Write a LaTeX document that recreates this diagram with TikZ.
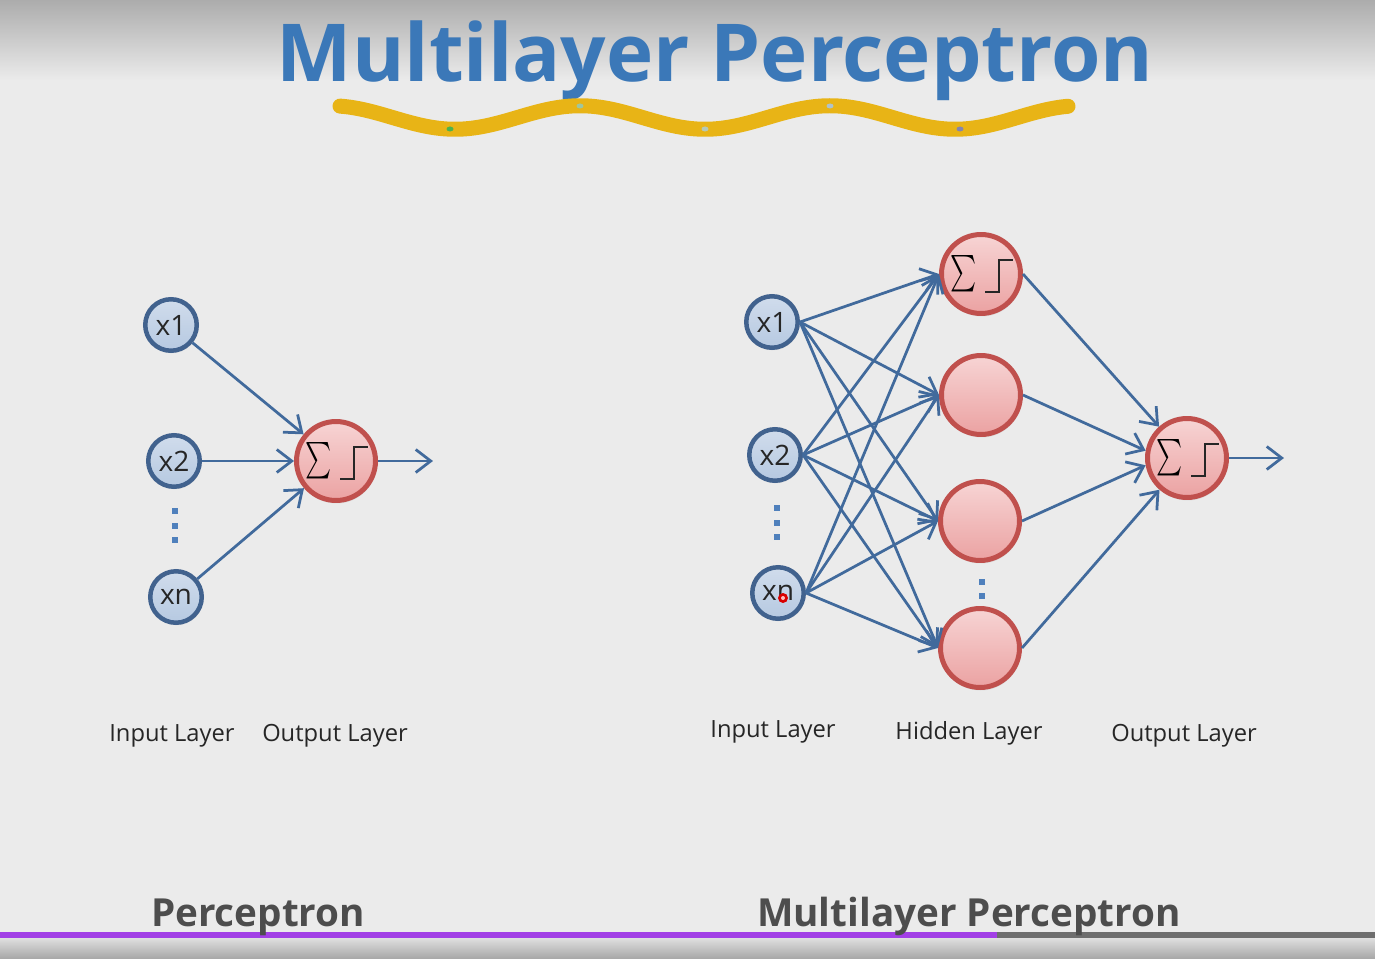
\documentclass[tikz,border=0pt]{standalone}
\usepackage{fontspec}
\setmainfont{Open Sans}
\usepackage{exscale}
\usepackage{graphicx}
\usepackage{xcolor}
\definecolor{slide}{HTML}{EBEBEB}
\definecolor{titleblue}{HTML}{3B78B8}
\definecolor{inring}{HTML}{41628E}
\definecolor{intop}{HTML}{D0DCEC}
\definecolor{inbot}{HTML}{B6C9E1}
\definecolor{nring}{HTML}{C0504D}
\definecolor{ntop}{HTML}{F7D4D4}
\definecolor{nbot}{HTML}{EBA2A2}
\definecolor{edgeblue}{HTML}{416A9C}
\definecolor{dotblue}{HTML}{4F80BC}
\definecolor{wavegold}{HTML}{E8B416}
\definecolor{barpurple}{HTML}{A23FE6}
\definecolor{bargray}{HTML}{6E6E6E}
\definecolor{capgray}{HTML}{4D4D4D}
\usetikzlibrary{arrows.meta,positioning,shadows}
\tikzset{
    inp/.style={
    circle,draw=inring,line width=0.09cm,top color=intop,bottom color=inbot,minimum size=1.03cm,inner sep=0pt,
    font=\fontsize{16}{18}\selectfont,text=black!85,drop shadow={opacity=0.12,shadow xshift=0.02cm,shadow yshift=-0.05cm}
    },
    neur/.style={
    circle,draw=nring,line width=0.1cm,top color=ntop,bottom color=nbot,minimum size=1.58cm,inner sep=0pt,
    drop shadow={opacity=0.12,shadow xshift=0.02cm,shadow yshift=-0.06cm}
    },
    sq/.style={rectangle,fill=dotblue,minimum size=0.13cm,inner sep=0pt},
  line/.style={draw=edgeblue, line width=0.055cm, -{Straight Barb[length=0.3cm,width=0.46cm]}},
  stepfn/.style={line width=0.05cm, black!85},
  lbl/.style={anchor=base, font=\fontsize{13.5}{16}\selectfont, text=black!85},
  caption/.style={anchor=base, font=\bfseries\fontsize{22}{24}\selectfont, text=capgray},
}
\newcommand{\sumtxt}{\scalebox{0.68}[1]{\fontsize{20}{20}\selectfont$\sum$}\rule{0.68cm}{0pt}}
\newcommand{\actstep}[1]{\draw[stepfn] ([shift={(4,18)}]#1.center) -- ++(14,0) -- ++(0,-32) -- ++(14,0);}

\begin{document}
\begin{tikzpicture}[x=0.02cm,y=-0.02cm]
\useasboundingbox (0,0) rectangle (1375,959);
% slide background
\fill[slide] (0,0) rectangle (1375,959);
\shade[top color=gray!65, bottom color=slide] (0,0) rectangle (1375,80);
\shade[top color=gray!25, bottom color=gray!70] (0,938) rectangle (1375,959);
\fill[barpurple] (0,932) rectangle (997,938);
\fill[bargray] (997,932) rectangle (1375,938);

  \node[anchor=base,font=\bfseries\fontsize{45.5}{50}\selectfont,text=titleblue] (title) at (715,82) {Multilayer Perceptron};
  \draw[wavegold,line width=0.3cm,line cap=round] plot[domain=340:1068,samples=120,smooth] (\x,{117.5-11.75*cos((\x-330)*1.44)});
  \fill[green!40!gray] (450,129) ellipse (0.07cm and 0.05cm);
  \fill[green!25!gray!60] (580,106) ellipse (0.07cm and 0.05cm);
  \fill[green!15!gray!50] (705,129) ellipse (0.07cm and 0.05cm);
  \fill[cyan!25!gray!60] (830,106) ellipse (0.07cm and 0.05cm);
  \fill[blue!20!gray!80] (960,129) ellipse (0.07cm and 0.05cm);

% perceptron
  \node[inp] (px1) at (171,325) {x1};
  \node[inp] (px2) at (174,461) {x2};
  \node[inp] (pxn) at (176,597) {xn};
  \node[sq] (pd1) at (175,511) {};
  \node[sq] (pd2) at (175,526) {};
  \node[sq] (pd3) at (175,540) {};
  \node[neur] (pout) at (336,461) {\sumtxt};
  \actstep{pout}
  \coordinate[right=1.1cm of pout] (py);
  \path[line] (px1) -- (pout);
  \path[line] (px2) -- (pout);
  \path[line] (pxn) -- (pout);
  \path[line] (pout) -- (py);
  \node[lbl] (pin) at (172,741) {Input Layer};
  \node[lbl] (pol) at (335,741) {Output Layer};

% multilayer perceptron
  \node[inp] (m1) at (772,322) {x1};
  \node[inp] (m2) at (775,455) {x2};
  \node[inp] (mn) at (778,593) {xn};
  \node[sq] (md1) at (777,508) {};
  \node[sq] (md2) at (777,523) {};
  \node[sq] (md3) at (777,537) {};
  \node[neur] (h1) at (981,274) {\sumtxt};
  \actstep{h1}
  \node[neur] (h2) at (981,395) {};
  \node[neur] (h3) at (980,521) {};
  \node[neur] (h4) at (980,648) {};
  \node[sq] (hd1) at (982,582) {};
  \node[sq] (hd2) at (982,596) {};
  \node[neur] (mout) at (1187,458) {\sumtxt};
  \actstep{mout}
  \coordinate[right=1.1cm of mout] (my);
  \path (m1.east) edge[line] (h1.west) edge[line] (h2.west) edge[line] (h3.west) edge[line] (h4.west);
  \path (m2.east) edge[line] (h1.west) edge[line] (h2.west) edge[line] (h3.west) edge[line] (h4.west);
  \path (mn.east) edge[line] (h1.west) edge[line] (h2.west) edge[line] (h3.west) edge[line] (h4.west);
  \path (h1.east) edge[line] (mout);
  \path (h2.east) edge[line] (mout.170);
  \path (h3.east) edge[line] (mout.190);
  \path (h4.east) edge[line] (mout);
  \path[line] (mout) -- (my);
  \fill[red!85!black] (783,598) circle (0.1cm);
  \fill[red!25] (783,598) circle (0.04cm);
  \node[lbl] (min) at (773,737) {Input Layer};
  \node[lbl] (mhl) at (969,739) {Hidden Layer};
  \node[lbl] (mol) at (1184,741) {Output Layer};

  \node[caption] (pcap) at (258,926) {Perceptron};
  \node[caption] (mcap) at (969,926) {Multilayer Perceptron};
\end{tikzpicture}
\end{document}
